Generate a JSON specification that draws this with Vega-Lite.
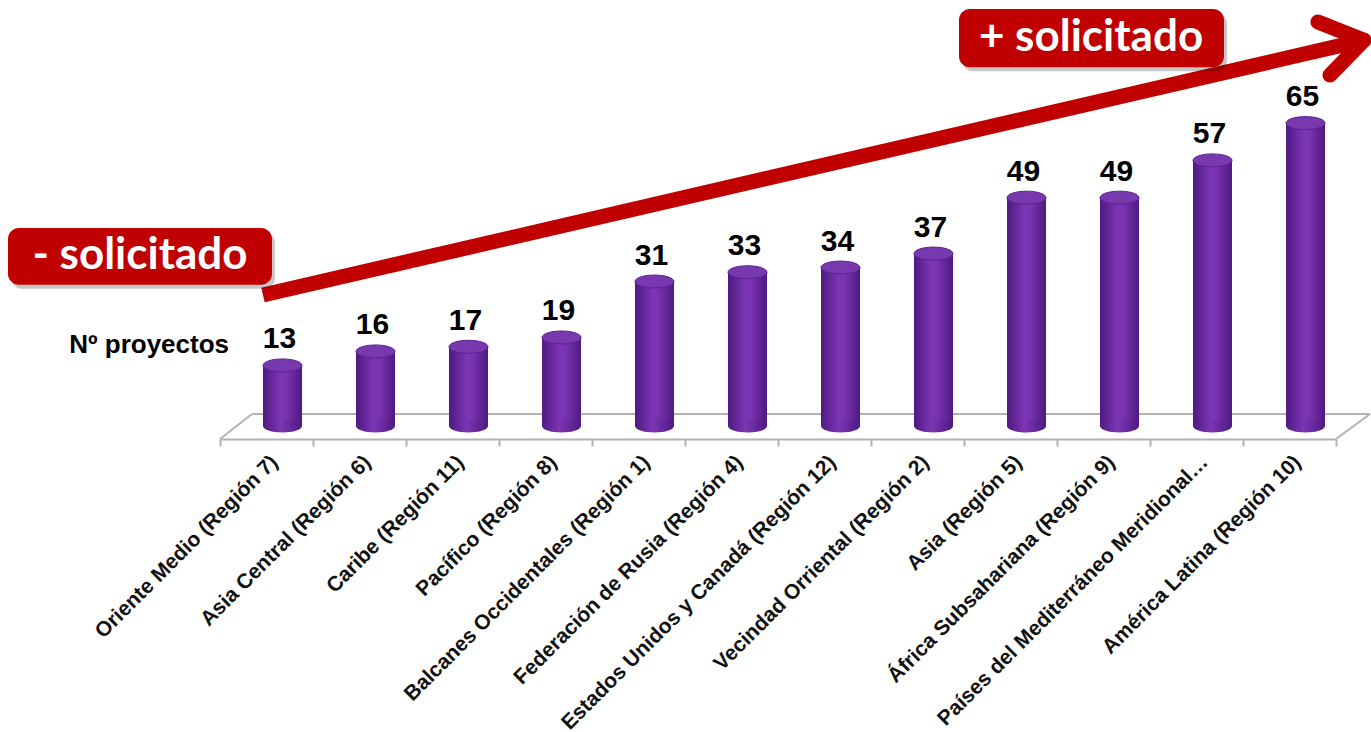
{
  "$schema": "https://vega.github.io/schema/vega-lite/v6.json",
  "width": 1116,
  "height": 439,
  "autosize": {"type": "none"},
  "padding": {"left": 220, "top": 0, "right": 35, "bottom": 293},
  "background": "white",
  "config": {"view": {"stroke": null}},
  "datasets": {
    "bars": [
      {"region": "Oriente Medio (Región 7)", "proyectos": 13},
      {"region": "Asia Central (Región 6)", "proyectos": 16},
      {"region": "Caribe (Región 11)", "proyectos": 17},
      {"region": "Pacífico (Región 8)", "proyectos": 19},
      {"region": "Balcanes Occidentales (Región 1)", "proyectos": 31},
      {"region": "Federación de Rusia (Región 4)", "proyectos": 33},
      {"region": "Estados Unidos y Canadá (Región 12)", "proyectos": 34},
      {"region": "Vecindad Orriental (Región 2)", "proyectos": 37},
      {"region": "Asia (Región 5)", "proyectos": 49},
      {"region": "África Subsahariana (Región 9)", "proyectos": 49},
      {"region": "Países del Mediterráneo Meridional…", "proyectos": 57},
      {"region": "América Latina (Región 10)", "proyectos": 65}
    ],
    "floor": [
      {"u": 0.344, "v": 2.575, "u2": 12.366, "v2": 2.575},
      {"u": 0, "v": -2.79, "u2": 0.344, "v2": 2.575},
      {"u": 12, "v": -2.79, "u2": 12.366, "v2": 2.575}
    ],
    "shaft": [
      {"u": 0.462, "v": 28.1, "u2": 12.3, "v2": 82.8}
    ],
    "barbs": [
      {"u": 11.806, "v": 86.7, "u2": 12.3, "v2": 82.8},
      {"u": 11.935, "v": 75.3, "u2": 12.3, "v2": 82.8}
    ],
    "boxes": [
      {"label": "- solicitado", "u": -2.28, "u2": 0.559, "v": 42.5, "v2": 30.3, "tu": -0.86, "tv": 36.5},
      {"label": "+ solicitado", "u": 7.946, "u2": 10.796, "v": 89.5, "v2": 77.0, "tu": 9.366, "tv": 83.3}
    ],
    "ylabel": [
      {"label": "Nº proyectos", "u": 0.097, "v": 17.4}
    ]
  },
  "resolve": {"scale": {"x": "independent"}},
  "layer": [
    {
      "data": {"name": "floor"},
      "mark": {"type": "rule", "color": "#b3b3b3", "strokeWidth": 2},
      "encoding": {
        "x": {"field": "u", "type": "quantitative", "scale": {"domain": [0, 12], "nice": false, "zero": false}, "axis": null},
        "x2": {"field": "u2"},
        "y": {"field": "v", "type": "quantitative", "scale": {"domain": [-2.79, 91.42], "nice": false, "zero": false}, "axis": null},
        "y2": {"field": "v2"}
      }
    },
    {
      "data": {"name": "bars"},
      "mark": {
        "type": "bar",
        "width": 39,
        "xOffset": 16,
        "color": {"gradient": "linear", "x1": 0, "x2": 1, "y1": 0, "y2": 0,
          "stops": [
            {"offset": 0, "color": "#4e1a80"},
            {"offset": 0.45, "color": "#7c35b4"},
            {"offset": 0.6, "color": "#7a33b1"},
            {"offset": 1, "color": "#4e1a80"}
          ]}
      },
      "encoding": {
        "x": {"field": "region", "type": "nominal", "sort": null, "title": null,
          "scale": {"paddingInner": 0, "paddingOuter": 0},
          "axis": {
            "labelAngle": -45, "labelFont": "Liberation Sans", "labelFontWeight": "bold",
            "labelFontSize": 21, "labelColor": "#111111", "labelLimit": 600,
            "labelPadding": 5,
            "domainColor": "#b3b3b3", "domainWidth": 2,
            "tickColor": "#b3b3b3", "tickWidth": 2, "tickSize": 7, "tickBand": "extent"
          }},
        "y": {"field": "proyectos", "type": "quantitative", "axis": null},
        "y2": {"datum": 0}
      }
    },
    {
      "data": {"name": "bars"},
      "mark": {
        "type": "point", "filled": true, "xOffset": 16, "size": 1521, "opacity": 1,
        "shape": "M -1 0 A 1 0.333 0 1 1 1 0 A 1 0.333 0 1 1 -1 0 Z",
        "fill": {"gradient": "linear", "x1": 0, "x2": 1, "y1": 0, "y2": 0,
          "stops": [
            {"offset": 0, "color": "#4e1a80"},
            {"offset": 0.45, "color": "#7c35b4"},
            {"offset": 1, "color": "#4e1a80"}
          ]}
      },
      "encoding": {
        "x": {"field": "region", "type": "nominal", "sort": null, "axis": null},
        "y": {"datum": 0, "type": "quantitative", "axis": null}
      }
    },
    {
      "data": {"name": "bars"},
      "mark": {
        "type": "point", "filled": true, "xOffset": 16, "size": 1521, "opacity": 1,
        "shape": "M -1 0 A 1 0.333 0 1 1 1 0 A 1 0.333 0 1 1 -1 0 Z",
        "fill": "#7838ae", "stroke": "#5a2090", "strokeWidth": 1
      },
      "encoding": {
        "x": {"field": "region", "type": "nominal", "sort": null, "axis": null},
        "y": {"field": "proyectos", "type": "quantitative", "axis": null}
      }
    },
    {
      "data": {"name": "bars"},
      "mark": {
        "type": "text", "xOffset": 13, "dy": -17, "baseline": "alphabetic", "align": "center",
        "font": "Liberation Sans", "fontWeight": "bold", "fontSize": 30, "color": "#000000"
      },
      "encoding": {
        "x": {"field": "region", "type": "nominal", "sort": null, "axis": null},
        "y": {"field": "proyectos", "type": "quantitative", "axis": null},
        "text": {"field": "proyectos", "type": "quantitative"}
      }
    },
    {
      "data": {"name": "shaft"},
      "mark": {"type": "rule", "color": "#c00000", "strokeWidth": 15, "strokeCap": "butt"},
      "encoding": {
        "x": {"field": "u", "type": "quantitative", "scale": {"domain": [0, 12], "nice": false, "zero": false}, "axis": null},
        "x2": {"field": "u2"},
        "y": {"field": "v", "type": "quantitative", "axis": null},
        "y2": {"field": "v2"}
      }
    },
    {
      "data": {"name": "barbs"},
      "mark": {"type": "rule", "color": "#c00000", "strokeWidth": 15, "strokeCap": "round"},
      "encoding": {
        "x": {"field": "u", "type": "quantitative", "scale": {"domain": [0, 12], "nice": false, "zero": false}, "axis": null},
        "x2": {"field": "u2"},
        "y": {"field": "v", "type": "quantitative", "axis": null},
        "y2": {"field": "v2"}
      }
    },
    {
      "data": {"name": "boxes"},
      "mark": {"type": "rect", "color": "#000000", "opacity": 0.22, "cornerRadius": 11,
        "xOffset": 3, "x2Offset": 3, "yOffset": 4, "y2Offset": 4},
      "encoding": {
        "x": {"field": "u", "type": "quantitative", "scale": {"domain": [0, 12], "nice": false, "zero": false}, "axis": null},
        "x2": {"field": "u2"},
        "y": {"field": "v", "type": "quantitative", "axis": null},
        "y2": {"field": "v2"}
      }
    },
    {
      "data": {"name": "boxes"},
      "mark": {"type": "rect", "color": "#c00000", "cornerRadius": 11},
      "encoding": {
        "x": {"field": "u", "type": "quantitative", "scale": {"domain": [0, 12], "nice": false, "zero": false}, "axis": null},
        "x2": {"field": "u2"},
        "y": {"field": "v", "type": "quantitative", "axis": null},
        "y2": {"field": "v2"}
      }
    },
    {
      "data": {"name": "boxes"},
      "mark": {"type": "text", "color": "#ffffff", "font": "Lato", "fontWeight": "bold", "fontSize": 44, "align": "center", "baseline": "middle"},
      "encoding": {
        "x": {"field": "tu", "type": "quantitative", "scale": {"domain": [0, 12], "nice": false, "zero": false}, "axis": null},
        "y": {"field": "tv", "type": "quantitative", "axis": null},
        "text": {"field": "label", "type": "nominal"}
      }
    },
    {
      "data": {"name": "ylabel"},
      "mark": {"type": "text", "align": "right", "baseline": "middle", "font": "Liberation Sans", "fontWeight": "bold", "fontSize": 26, "color": "#000000"},
      "encoding": {
        "x": {"field": "u", "type": "quantitative", "scale": {"domain": [0, 12], "nice": false, "zero": false}, "axis": null},
        "y": {"field": "v", "type": "quantitative", "axis": null},
        "text": {"field": "label", "type": "nominal"}
      }
    }
  ]
}
